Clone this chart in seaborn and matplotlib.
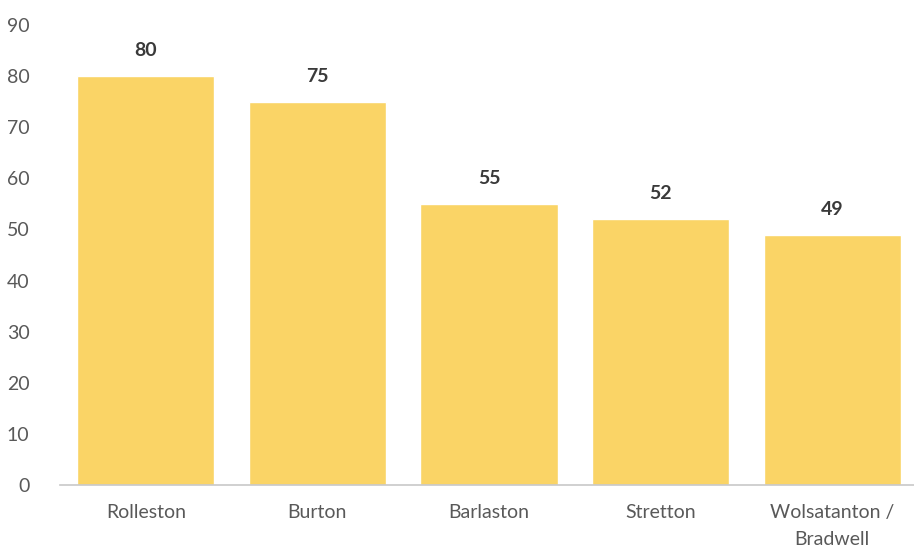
import matplotlib
matplotlib.use("Agg")
import matplotlib.pyplot as plt
import seaborn as sns
import pandas as pd

places = ["Rolleston", "Burton", "Barlaston", "Stretton", "Wolsatanton /\nBradwell"]
values = [80, 75, 55, 52, 49]
yticks = [0, 10, 20, 30, 40, 50, 60, 70, 80, 90]

sns.set_style("white")
plt.rcParams['font.family'] = ['Lato', 'DejaVu Sans']

df = pd.DataFrame({"place": places, "value": values})

fig = plt.figure(figsize=(9.14, 5.51), dpi=100)
ax = fig.add_axes([60 / 914, 66 / 551, 858 / 914, (485 - 25) / 551])

sns.barplot(data=df, x="place", y="value", color="#FAD466", saturation=1,
            width=0.8, ax=ax)

ax.set_ylim(0, 90)
ax.set_yticks(yticks)
ax.set_xlim(-0.5, len(places) - 0.5)
ax.set_xlabel("")
ax.set_ylabel("")
sns.despine(ax=ax, left=True)
ax.spines["bottom"].set_color("#c8c8c8")
ax.spines["bottom"].set_linewidth(1.2)
ax.tick_params(axis="both", length=0, labelsize=14, colors="#595959")
ax.tick_params(axis="x", pad=14)
ax.tick_params(axis="y", pad=22)
for lbl in ax.get_xticklabels():
    lbl.set_linespacing(1.7)

for i, v in enumerate(values):
    ax.text(i, v + 3.3, str(v), ha="center", va="bottom", fontsize=14,
            fontweight="bold", color="#3a3a3a")

fig.savefig("out.png", dpi=100)
